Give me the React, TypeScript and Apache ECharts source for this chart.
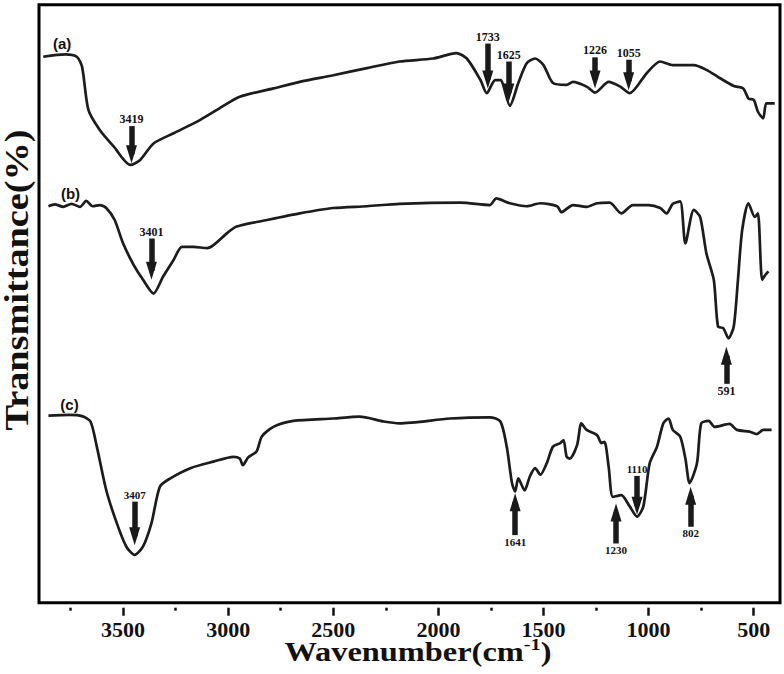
import React, { useEffect, useRef } from 'react';
import * as echarts from 'echarts';

const SERIF = '"Liberation Serif", "Times New Roman", serif';
const SANS = '"Liberation Sans", Arial, sans-serif';

// x-axis tick values (wavenumber, cm-1)
const WN_TICKS = [3500, 3000, 2500, 2000, 1500, 1000, 500];
const WN_MINOR = [3750, 3250, 2750, 2250, 1750, 1250, 750];

// curve (a)
const A_WN = [3880, 3775, 3720, 3695, 3665, 3610, 3545, 3465, 3420, 3355, 3260, 3135, 3040, 2945, 2785, 2660, 2500, 2340, 2185, 2025, 1915, 1865, 1800, 1770, 1730, 1705, 1660, 1620, 1580, 1540, 1500, 1455, 1390, 1360, 1295, 1255, 1190, 1135, 1090, 1010, 945, 885, 785, 725, 660, 595, 550, 525, 500, 480, 455, 440, 400];
const A_T = [91.3, 91.7, 91.3, 89.6, 82.4, 79.0, 76.3, 73.2, 74.0, 76.8, 78.5, 80.7, 82.7, 84.6, 86.0, 87.1, 88.2, 89.4, 90.5, 91.0, 91.9, 91.0, 87.4, 85.2, 87.4, 87.4, 83.1, 86.9, 90.2, 91.0, 89.9, 86.9, 86.6, 87.1, 86.3, 85.3, 87.1, 86.3, 85.2, 88.5, 90.5, 89.9, 89.9, 89.1, 87.7, 86.4, 86.0, 84.3, 84.1, 82.1, 81.0, 83.5, 83.5];

// curve (b)
const B_WN = [3855, 3825, 3785, 3745, 3705, 3675, 3645, 3610, 3580, 3540, 3500, 3450, 3405, 3355, 3310, 3260, 3220, 3165, 3100, 3070, 3005, 2960, 2815, 2660, 2500, 2340, 2185, 1895, 1755, 1725, 1660, 1580, 1515, 1435, 1415, 1360, 1295, 1245, 1185, 1130, 1075, 1000, 945, 915, 885, 850, 825, 785, 755, 725, 690, 670, 645, 620, 595, 575, 555, 525, 495, 480, 460, 445, 430];
const B_T = [66.3, 66.6, 66.2, 66.7, 66.2, 67.2, 66.3, 66.5, 66.0, 64.0, 60.1, 56.5, 54.0, 51.7, 54.5, 57.3, 59.5, 59.5, 59.3, 59.8, 61.8, 62.9, 64.0, 65.1, 66.0, 66.3, 66.7, 66.9, 66.5, 67.6, 66.8, 66.3, 66.8, 66.3, 65.3, 66.5, 66.2, 66.8, 66.9, 65.1, 66.5, 66.5, 66.0, 65.1, 66.7, 67.1, 60.1, 65.7, 64.5, 58.4, 54.0, 46.2, 45.9, 44.2, 46.2, 54.0, 62.3, 66.8, 64.5, 65.1, 54.0, 54.8, 55.4];

// curve (c)
const C_WN = [3855, 3755, 3695, 3655, 3625, 3580, 3530, 3485, 3445, 3405, 3365, 3325, 3275, 3180, 3070, 2975, 2945, 2930, 2905, 2865, 2840, 2785, 2690, 2500, 2375, 2260, 2185, 1945, 1755, 1705, 1675, 1650, 1635, 1620, 1590, 1565, 1540, 1515, 1485, 1455, 1420, 1405, 1390, 1375, 1340, 1320, 1295, 1245, 1225, 1210, 1190, 1170, 1130, 1090, 1055, 1025, 995, 960, 930, 905, 885, 850, 825, 805, 770, 750, 715, 685, 615, 580, 520, 485, 455, 415];
const C_T = [31.3, 31.4, 31.2, 30.3, 26.1, 18.8, 13.3, 9.4, 8.0, 9.4, 13.3, 19.4, 20.8, 22.5, 23.6, 24.4, 24.1, 23.0, 24.3, 25.3, 27.8, 29.4, 30.4, 30.8, 31.1, 30.3, 30.0, 30.8, 31.0, 30.3, 26.1, 20.0, 18.6, 20.8, 18.8, 21.1, 22.5, 21.4, 23.3, 26.1, 26.7, 27.2, 24.4, 24.1, 26.4, 30.0, 28.9, 28.0, 26.7, 26.9, 22.7, 17.7, 18.0, 16.1, 14.4, 16.1, 23.3, 26.1, 30.0, 30.8, 28.9, 27.8, 24.1, 20.0, 23.3, 30.0, 30.4, 29.4, 29.9, 28.9, 28.6, 28.2, 28.9, 28.9];

// peak annotations (arrows): label, position, arrow start value, arrow end value
const A_PEAK_LABELS = ['3419', '1733', '1625', '1226', '1055'];
const A_PEAK_WN = [3460, 1765, 1665, 1255, 1095];
const A_ARROW_FROM = [79.7, 93.5, 90.5, 91.2, 90.8];
const A_ARROW_TO = [75.0, 87.5, 85.3, 87.5, 87.2];

const B_PEAK_LABELS = ['3401', '591'];
const B_PEAK_WN = [3365, 630];
const B_ARROW_FROM = [60.9, 36.6];
const B_ARROW_TO = [55.5, 41.3];

const C_PEAK_LABELS = ['3407', '1641', '1230', '1110', '802'];
const C_PEAK_WN = [3445, 1635, 1155, 1055, 800];
const C_ARROW_FROM = [16.9, 11.3, 9.9, 21.2, 12.7];
const C_ARROW_TO = [11.1, 16.8, 15.1, 16.2, 17.9];

// curve names and their positions
const CURVE_NAMES = ['(a)', '(b)', '(c)'];
const CURVE_NAME_WN = [3790, 3750, 3755];
const CURVE_NAME_T = [93.5, 68.5, 33.2];

const LINE_COLOR = '#1c1c1c';

function zip(xs: number[], ys: number[]) {
  return xs.map((x, i) => [x, ys[i]]);
}

function arrows(labels: string[], wn: number[], from: number[], to: number[], fontSize: number) {
  return labels.map((lab, i) => [
    { coord: [wn[i], from[i]], label: { formatter: lab, fontSize } },
    { coord: [wn[i], to[i]] },
  ]);
}

function makeSeries(idx: number, wn: number[], t: number[], arrowData: any[]) {
  return {
    type: 'line',
    name: CURVE_NAMES[idx],
    data: zip(wn, t),
    showSymbol: false,
    smooth: 0.25,
    lineStyle: { color: LINE_COLOR, width: 2.7 },
    itemStyle: { color: LINE_COLOR },
    silent: true,
    markLine: {
      silent: true,
      animation: false,
      symbol: ['none', 'triangle'],
      symbolSize: [11, 18],
      lineStyle: { color: '#1a1a1a', width: 5.5, type: 'solid' },
      itemStyle: { color: '#1a1a1a' },
      label: {
        show: true,
        position: 'start',
        distance: 1,
        fontFamily: SERIF,
        fontWeight: 'bold',
        color: '#111',
      },
      emphasis: { disabled: true },
      data: arrowData,
    },
    markPoint: {
      silent: true,
      animation: false,
      symbol: 'circle',
      symbolSize: 1,
      itemStyle: { color: 'rgba(0,0,0,0)' },
      label: {
        show: true,
        position: 'inside',
        formatter: CURVE_NAMES[idx],
        fontFamily: SANS,
        fontWeight: 'bold',
        fontSize: 15,
        color: '#111',
      },
      data: [{ coord: [CURVE_NAME_WN[idx], CURVE_NAME_T[idx]] }],
    },
  };
}

const X_MIN = 375;
const X_MAX = 3900;

export default function App() {
  const ref = useRef<HTMLDivElement>(null);
  useEffect(() => {
    document.body.style.margin = '0';
    const chart = echarts.init(ref.current!, null, { renderer: 'svg' });
    const baseX = { type: 'value', min: X_MIN, max: X_MAX, inverse: true, position: 'bottom', splitLine: { show: false } };
    chart.setOption({
      animation: false,
      backgroundColor: '#fff',
      grid: {
        left: 39,
        right: 4,
        top: 4.7,
        bottom: 71.3,
        show: true,
        borderColor: '#000',
        borderWidth: 3,
        backgroundColor: 'transparent',
      },
      xAxis: [
        {
          ...baseX,
          axisLine: { show: false },
          axisTick: { show: false },
          axisLabel: {
            show: true,
            customValues: WN_TICKS,
            formatter: (v: number) => String(v),
            margin: 16,
            fontSize: 22,
            fontWeight: 'bold',
            fontFamily: SERIF,
            color: '#111',
          },
        },
        {
          ...baseX,
          offset: 5,
          axisLine: { show: false },
          axisLabel: { show: false },
          axisTick: { show: true, customValues: WN_TICKS, length: 8, lineStyle: { width: 2.5, color: '#111' } },
        },
        {
          ...baseX,
          offset: 5,
          axisLine: { show: false },
          axisLabel: { show: false },
          axisTick: { show: true, customValues: WN_MINOR, length: 3, lineStyle: { width: 2.5, color: '#111' } },
        },
      ],
      yAxis: { type: 'value', min: 0, max: 100, show: false },
      series: [
        makeSeries(0, A_WN, A_T, arrows(A_PEAK_LABELS, A_PEAK_WN, A_ARROW_FROM, A_ARROW_TO, 12)),
        makeSeries(1, B_WN, B_T, arrows(B_PEAK_LABELS, B_PEAK_WN, B_ARROW_FROM, B_ARROW_TO, 12)),
        makeSeries(2, C_WN, C_T, arrows(C_PEAK_LABELS, C_PEAK_WN, C_ARROW_FROM, C_ARROW_TO, 11)),
      ],
      graphic: [
        {
          type: 'text',
          x: 17,
          y: 280,
          rotation: Math.PI / 2,
          scaleX: 1.16,
          silent: true,
          style: {
            text: 'Transmittance(%)',
            fontSize: 33,
            fontWeight: 'bold',
            fontFamily: SERIF,
            fill: '#111',
            align: 'center',
            verticalAlign: 'middle',
          },
        },
        {
          type: 'text',
          x: 418,
          y: 651.5,
          scaleX: 1.2,
          silent: true,
          style: {
            text: '{m|Wavenumber(cm}{s|-1}{m|)}',
            align: 'center',
            verticalAlign: 'middle',
            rich: {
              m: { fontSize: 27, fontWeight: 'bold', fontFamily: SERIF, lineHeight: 32, fill: '#111' },
              s: { fontSize: 17, fontWeight: 'bold', fontFamily: SERIF, lineHeight: 17, verticalAlign: 'top', fill: '#111' },
            },
          },
        },
      ],
    });
    return () => chart.dispose();
  }, []);
  return <div ref={ref} style={{ position: 'absolute', left: 0, top: 0, width: 784, height: 674 }} />;
}
